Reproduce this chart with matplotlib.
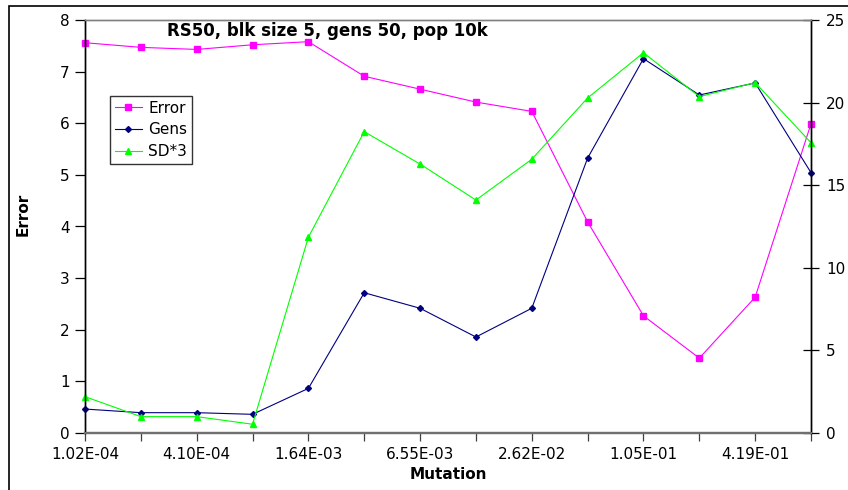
import numpy as np
import matplotlib
matplotlib.use("Agg")
import matplotlib.pyplot as plt
from matplotlib.patches import Rectangle

# Data
mutation = ["1.02E-04", "2.05E-04", "4.10E-04", "8.19E-04", "1.64E-03", "3.28E-03",
            "6.55E-03", "1.31E-02", "2.62E-02", "5.24E-02", "1.05E-01", "2.10E-01",
            "4.19E-01", "8.39E-01"]
error = [7.56, 7.47, 7.43, 7.52, 7.58, 6.91, 6.66, 6.41, 6.23, 4.09, 2.27, 1.45, 2.63, 5.99]
gens = [1.45, 1.23, 1.23, 1.13, 2.70, 8.49, 7.55, 5.81, 7.55, 16.64, 22.66, 20.46, 21.19, 15.76]
sd3 = [2.20, 0.99, 0.99, 0.53, 11.85, 18.24, 16.28, 14.10, 16.57, 20.28, 23.02, 20.36, 21.21, 17.57]

plt.rcParams['font.family'] = ['DejaVu Sans']

W, H = 848, 490
fig = plt.figure(figsize=(W / 100, H / 100), dpi=100)
fig.patch.set_facecolor("white")

# outer chart border (runs off the right/bottom edges)
fig.patches.append(Rectangle((9 / W, -0.1), 1.2, 1 - 6 / H + 0.1, transform=fig.transFigure,
                             fill=False, edgecolor="black", linewidth=1.2))

ax = fig.add_axes([85 / W, (H - 433) / H, (811 - 85) / W, (433 - 20) / H])
ax2 = ax.twinx()

x = np.arange(len(mutation))

l1, = ax.plot(x, error, color="#FF00FF", marker="s", markersize=4.8, linewidth=0.8,
              label="Error", clip_on=False)
l2, = ax2.plot(x, gens, color="#000080", marker="D", markersize=3, linewidth=0.8,
               label="Gens", clip_on=False)
l3, = ax2.plot(x, sd3, color="#00FF00", marker="^", markersize=5, linewidth=0.8,
               label="SD*3", clip_on=False)

ax.set_xlim(0, len(mutation) - 1)
ax.set_ylim(0, 8)
ax2.set_ylim(0, 25)
ax.set_yticks(range(0, 9))
ax2.set_yticks(range(0, 26, 5))
ax.set_xticks(x)
ax.set_xticklabels([m if i % 2 == 0 else "" for i, m in enumerate(mutation)])

for a in (ax, ax2):
    a.spines["top"].set_color("#808080")
    a.spines["top"].set_linewidth(1.0)
    a.spines["bottom"].set_color("#707070")
    a.spines["bottom"].set_linewidth(1.6)
    a.spines["left"].set_color("black")
    a.spines["right"].set_color("black")
    a.spines["left"].set_linewidth(1.0)
    a.spines["right"].set_linewidth(1.0)
    a.patch.set_visible(False)

ax.tick_params(axis="y", direction="out", length=7, width=0.9, labelsize=11, pad=4)
ax.tick_params(axis="x", direction="out", length=6, width=0.9, labelsize=11, pad=4,
               color="#404040")
ax2.tick_params(axis="y", direction="inout", length=12, width=0.9, labelsize=11, pad=5)

ax.set_xlabel("Mutation", fontsize=11, fontweight="bold", labelpad=4)
ax.set_ylabel("Error", fontsize=11, fontweight="bold")
ax.yaxis.set_label_coords((31 - 85) / (811 - 85), (433 - 214) / (433 - 20))

ax.text((167 - 85) / (811 - 85), 0.995, "RS50, blk size 5, gens 50, pop 10k",
        transform=ax.transAxes, fontsize=12, fontweight="bold", ha="left", va="top")

leg = ax2.legend(handles=[l1, l2, l3], loc="upper left",
                 bbox_to_anchor=((110 - 85) / (811 - 85), (433 - 96) / (433 - 20)),
                 fontsize=11, frameon=True, fancybox=False, edgecolor="black",
                 borderpad=0.3, labelspacing=0.45, handlelength=1.8, handletextpad=0.4,
                 borderaxespad=0)
leg.get_frame().set_linewidth(1.0)

fig.savefig("out.png", dpi=100, facecolor="white")
